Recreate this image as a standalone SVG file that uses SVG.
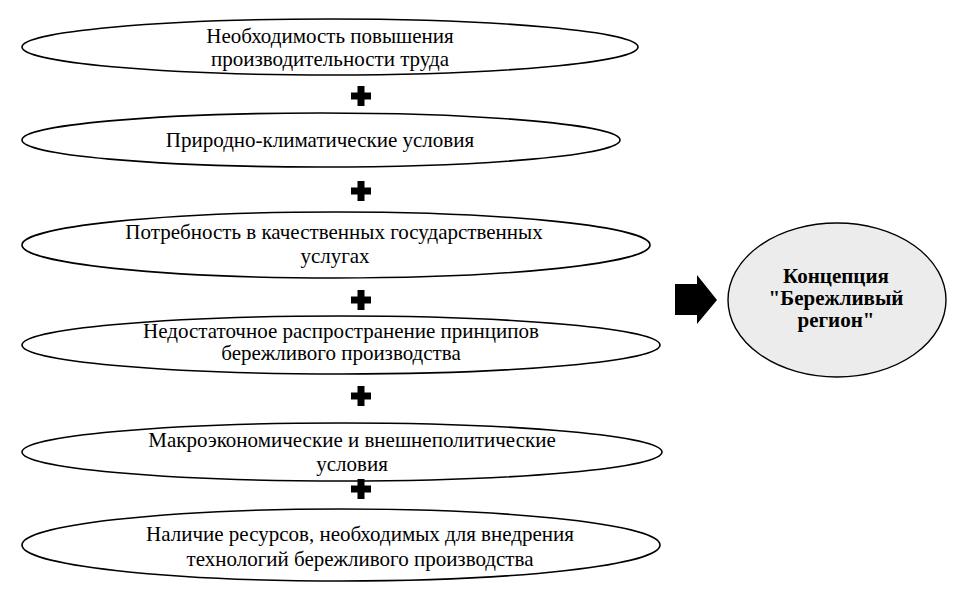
<svg xmlns="http://www.w3.org/2000/svg" width="966" height="600" viewBox="0 0 966 600">
<defs>
<path id="plus" d="M-3.5,-10 H3.5 V-3.5 H10 V3.5 H3.5 V10 H-3.5 V3.5 H-10 V-3.5 H-3.5 Z"/>
</defs>
<rect width="966" height="600" fill="#fff"/>
<g id="n1"><ellipse fill="#fff" stroke="#000" stroke-width="1.6" cx="330" cy="47" rx="308" ry="28"/>
<text x="330" y="43" text-anchor="middle" style="font-family:'Liberation Serif',serif;font-size:21px">Необходимость повышения</text>
<text x="330" y="66" text-anchor="middle" style="font-family:'Liberation Serif',serif;font-size:21px">производительности труда</text></g>
<g id="n2"><ellipse fill="#fff" stroke="#000" stroke-width="1.6" cx="321" cy="140" rx="299" ry="27"/>
<text x="320" y="147" text-anchor="middle" style="font-family:'Liberation Serif',serif;font-size:21px">Природно-климатические условия</text></g>
<g id="n3"><ellipse fill="#fff" stroke="#000" stroke-width="1.6" cx="336" cy="245" rx="314" ry="33"/>
<text x="334" y="239" text-anchor="middle" style="font-family:'Liberation Serif',serif;font-size:21px">Потребность в качественных государственных</text>
<text x="335" y="263" text-anchor="middle" style="font-family:'Liberation Serif',serif;font-size:21px">услугах</text></g>
<g id="n4"><ellipse fill="#fff" stroke="#000" stroke-width="1.6" cx="341" cy="345" rx="319" ry="29"/>
<text x="341" y="338" text-anchor="middle" style="font-family:'Liberation Serif',serif;font-size:21px">Недостаточное распространение принципов</text>
<text x="341" y="360" text-anchor="middle" style="font-family:'Liberation Serif',serif;font-size:21px">бережливого производства</text></g>
<g id="n5"><ellipse fill="#fff" stroke="#000" stroke-width="1.6" cx="342" cy="452" rx="320" ry="29"/>
<text x="352" y="447" text-anchor="middle" style="font-family:'Liberation Serif',serif;font-size:21px">Макроэкономические и внешнеполитические</text>
<text x="352" y="471" text-anchor="middle" style="font-family:'Liberation Serif',serif;font-size:21px">условия</text></g>
<g id="n6"><ellipse fill="#fff" stroke="#000" stroke-width="1.6" cx="341" cy="545" rx="319" ry="36"/>
<text x="360" y="541" text-anchor="middle" style="font-family:'Liberation Serif',serif;font-size:21px">Наличие ресурсов, необходимых для внедрения</text>
<text x="360" y="566" text-anchor="middle" style="font-family:'Liberation Serif',serif;font-size:21px">технологий бережливого производства</text></g>
<g id="n7"><ellipse cx="837" cy="300" rx="109" ry="77" fill="#ececec" stroke="#000" stroke-width="1.4"/>
<text x="836" y="283" text-anchor="middle" style="font-family:'Liberation Serif',serif;font-size:21px;font-weight:bold">Концепция</text>
<text x="836" y="305" text-anchor="middle" style="font-family:'Liberation Serif',serif;font-size:21px;font-weight:bold">"Бережливый</text>
<text x="836" y="327" text-anchor="middle" style="font-family:'Liberation Serif',serif;font-size:21px;font-weight:bold">регион"</text></g>
<g id="connectors" fill="#000">
<use href="#plus" x="361" y="96"/>
<use href="#plus" x="361" y="191"/>
<use href="#plus" x="361" y="300"/>
<use href="#plus" x="361" y="396"/>
<use href="#plus" x="361" y="489"/>
<path d="M675,284 H697 V275 L717,300 L697,324 V315 H675 Z"/>
</g>
</svg>
